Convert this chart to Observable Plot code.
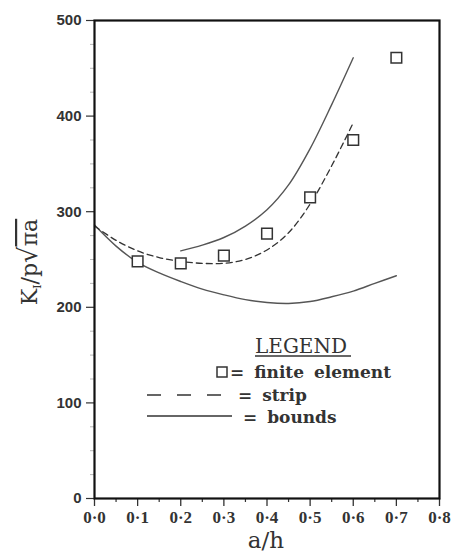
<!DOCTYPE html>
<html>
<head>
<meta charset="utf-8">
<script src="https://cdn.jsdelivr.net/npm/d3@7"></script>
<script src="https://cdn.jsdelivr.net/npm/@observablehq/plot@0.6"></script>
<style>
  html, body { margin: 0; padding: 0; background: white; }
</style>
</head>
<body>
<div id="chart"></div>
<script>
// Finite element results (squares)
const feA = [0.1, 0.2, 0.3, 0.4, 0.5, 0.6, 0.7];
const feK = [248, 246, 254, 277, 315, 375, 461];
// Strip solution (dashed)
const stripA = [0, 0.05, 0.1, 0.15, 0.2, 0.25, 0.3, 0.35, 0.4, 0.45, 0.5, 0.55, 0.6];
const stripK = [285, 270, 259, 252, 248, 246, 246, 250, 260, 278, 308, 348, 393];
// Upper bound (solid)
const upperA = [0.2, 0.25, 0.3, 0.35, 0.4, 0.45, 0.5, 0.55, 0.6];
const upperK = [259, 265, 273, 285, 302, 328, 366, 412, 461];
// Lower bound (solid)
const lowerA = [0, 0.05, 0.1, 0.15, 0.2, 0.25, 0.3, 0.35, 0.4, 0.45, 0.5, 0.55, 0.6, 0.65, 0.7];
const lowerK = [286, 264, 247, 236, 227, 219, 213, 208, 205, 204, 206, 211, 217, 225, 233];
// Ticks
const xTicks = [0, 0.1, 0.2, 0.3, 0.4, 0.5, 0.6, 0.7, 0.8];
const xMinor = [0.05, 0.15, 0.25, 0.35, 0.45, 0.55, 0.65, 0.75];
const yTicks = [0, 100, 200, 300, 400, 500];
const yMinor = [25, 50, 75, 125, 150, 175, 225, 250, 275, 325, 350, 375, 425, 450, 475];
const legendTitle = "LEGEND";
const legendLabels = ["= finite element", "= strip", "= bounds"];

const zip = (a, k) => a.map((v, i) => ({a: v, k: k[i]}));
const fe = zip(feA, feK);
const strip = zip(stripA, stripK);
const upper = zip(upperA, upperK);
const lower = zip(lowerA, lowerK);

const ink = "#333";
const serif = "'DejaVu Serif', serif";

const chart = Plot.plot({
  width: 459,
  height: 552,
  marginLeft: 94,
  marginRight: 20,
  marginTop: 20,
  marginBottom: 54,
  style: {background: "white", color: ink},
  x: {domain: [0, 0.8], label: null},
  y: {domain: [0, 500], label: null},
  marks: [
    Plot.axisX({ticks: xMinor, tickSize: 4, text: null, strokeWidth: 1.2, label: null}),
    Plot.axisX({ticks: xTicks, tickSize: 8, tickPadding: 4, strokeWidth: 1.3,
      tickFormat: d => d.toFixed(1).replace(".", "·"),
      fontSize: 17, fontFamily: "'Liberation Serif', serif", fontWeight: "bold", label: null}),
    Plot.axisY({ticks: yMinor, tickSize: 4, text: null, strokeOpacity: 0.35, label: null}),
    Plot.axisY({ticks: yTicks, tickSize: 8, tickPadding: 5, strokeWidth: 1.2,
      fontSize: 15, fontFamily: "'Liberation Sans', sans-serif", fontWeight: "bold", label: null}),
    Plot.line(lower, {x: "a", y: "k", curve: "catmull-rom", stroke: "#555", strokeWidth: 1.4}),
    Plot.line(upper, {x: "a", y: "k", curve: "catmull-rom", stroke: "#555", strokeWidth: 1.4}),
    Plot.line(strip, {x: "a", y: "k", curve: "catmull-rom", stroke: "#333", strokeWidth: 1.3, strokeDasharray: "6,4"}),
    Plot.dot(fe, {x: "a", y: "k", symbol: "square", r: 6, stroke: "#333", strokeWidth: 1.5, fill: "white"}),
    Plot.frame({stroke: "#111", strokeWidth: 2.2})
  ]
});

document.getElementById("chart").appendChild(chart);

const svg = d3.select(chart);
// Y axis label
const yl = svg.append("text")
  .attr("transform", "translate(37,262) rotate(-90)")
  .attr("text-anchor", "middle")
  .attr("font-family", serif)
  .attr("font-size", 22)
  .attr("fill", ink);
yl.append("tspan").text("K");
yl.append("tspan").text("I").attr("font-size", 11).attr("dy", 4);
yl.append("tspan").text("/p").attr("dy", -4);
yl.append("tspan").text("√").attr("font-size", 26);
yl.append("tspan").text("πa").attr("text-decoration", "overline");

// X axis label
svg.append("text")
  .attr("x", 266).attr("y", 548)
  .attr("text-anchor", "middle")
  .attr("font-family", serif)
  .attr("font-size", 23)
  .attr("fill", ink)
  .text("a/h");

// Legend
const lg = svg.append("g").attr("font-family", serif).attr("fill", ink).attr("text-anchor", "start");
lg.append("text").attr("x", 255).attr("y", 353).attr("font-size", 20).text(legendTitle);
lg.append("line").attr("x1", 255).attr("x2", 351).attr("y1", 356).attr("y2", 356)
  .attr("stroke", ink).attr("stroke-width", 1.3);
lg.append("rect").attr("x", 217).attr("y", 367).attr("width", 10).attr("height", 10)
  .attr("fill", "none").attr("stroke", ink).attr("stroke-width", 1.5);
const lbl = (x, y, t) => lg.append("text").attr("x", x).attr("y", y)
  .attr("font-size", 17).attr("font-weight", "bold").attr("word-spacing", 4).text(t);
lbl(230, 378, legendLabels[0]);
lg.append("line").attr("x1", 147).attr("x2", 222).attr("y1", 395).attr("y2", 395)
  .attr("stroke", ink).attr("stroke-width", 1.3).attr("stroke-dasharray", "14,16");
lbl(238, 401, legendLabels[1]);
lg.append("line").attr("x1", 147).attr("x2", 232).attr("y1", 416).attr("y2", 416)
  .attr("stroke", ink).attr("stroke-width", 1.3);
lbl(243, 423, legendLabels[2]);
</script>
</body>
</html>
